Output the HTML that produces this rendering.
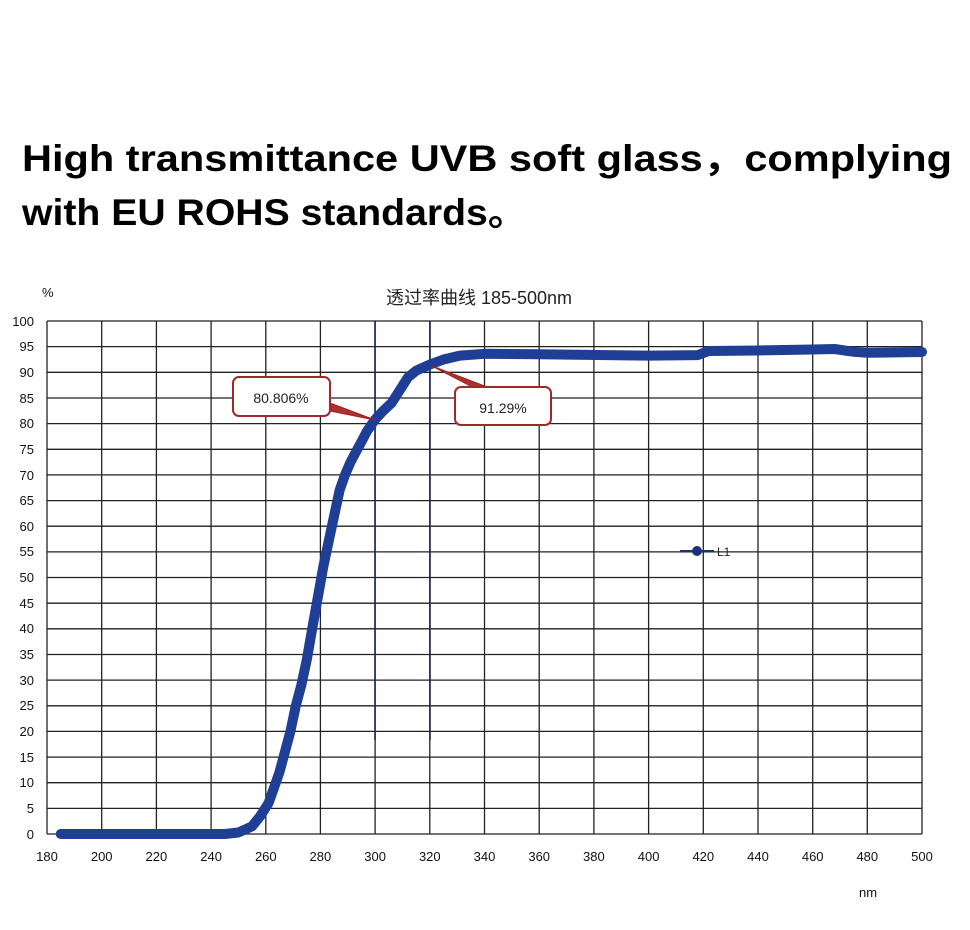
<!DOCTYPE html>
<html><head><meta charset="utf-8"><style>
html,body{margin:0;padding:0;background:#fff;}
svg{display:block;}
</style></head><body>
<svg width="970" height="930" xmlns="http://www.w3.org/2000/svg" font-family="Liberation Sans, Noto Sans CJK SC, sans-serif">
<rect width="970" height="930" fill="#fff"/>
<text x="22" y="171" font-size="37" font-weight="bold" fill="#000" textLength="930" lengthAdjust="spacingAndGlyphs">High transmittance UVB soft glass，complying</text>
<text x="22" y="225" font-size="37" font-weight="bold" fill="#000" textLength="505" lengthAdjust="spacingAndGlyphs">with EU ROHS standards。</text>
<g stroke="#222" stroke-width="1.3" fill="none">
<path d="M47 321V834M101.7 321V834M156.4 321V834M211.1 321V834M265.8 321V834M320.4 321V834M375.1 321V834M429.8 321V834M484.5 321V834M539.2 321V834M593.9 321V834M648.6 321V834M703.3 321V834M758 321V834M812.7 321V834M867.3 321V834M922 321V834"/>
<path d="M47 321H922M47 346.6H922M47 372.3H922M47 398H922M47 423.6H922M47 449.3H922M47 474.9H922M47 500.6H922M47 526.2H922M47 551.9H922M47 577.5H922M47 603.2H922M47 628.8H922M47 654.5H922M47 680.1H922M47 705.8H922M47 731.4H922M47 757.1H922M47 782.7H922M47 808.4H922M47 834H922"/>
</g>
<g font-size="13" fill="#111" text-anchor="end">
<text x="34" y="326">100</text><text x="34" y="351">95</text><text x="34" y="377">90</text><text x="34" y="403">85</text><text x="34" y="428">80</text><text x="34" y="454">75</text><text x="34" y="480">70</text><text x="34" y="505">65</text><text x="34" y="531">60</text><text x="34" y="556">55</text><text x="34" y="582">50</text><text x="34" y="608">45</text><text x="34" y="633">40</text><text x="34" y="659">35</text><text x="34" y="685">30</text><text x="34" y="710">25</text><text x="34" y="736">20</text><text x="34" y="762">15</text><text x="34" y="787">10</text><text x="34" y="813">5</text><text x="34" y="839">0</text>
</g>
<g font-size="13" fill="#111" text-anchor="middle">
<text x="47" y="861">180</text><text x="101.7" y="861">200</text><text x="156.4" y="861">220</text><text x="211.1" y="861">240</text><text x="265.8" y="861">260</text><text x="320.4" y="861">280</text><text x="375.1" y="861">300</text><text x="429.8" y="861">320</text><text x="484.5" y="861">340</text><text x="539.2" y="861">360</text><text x="593.9" y="861">380</text><text x="648.6" y="861">400</text><text x="703.3" y="861">420</text><text x="758" y="861">440</text><text x="812.7" y="861">460</text><text x="867.3" y="861">480</text><text x="922" y="861">500</text>
</g>
<text x="42" y="297" font-size="13" fill="#111">%</text>
<text x="859" y="897" font-size="13" fill="#111">nm</text>
<text x="479" y="304" font-size="18" fill="#222" text-anchor="middle">透过率曲线 185-500nm</text>
<path d="M375 321V740M430 321V740" stroke="#1a2a5a" stroke-width="1.6"/>
<path d="M60.7 834L224.7 834L238.4 832.5L252.1 826.3L260.3 816L268.5 803.2L274 787.8L279.4 772.4L284.9 751.9L290.4 731.4L295.8 705.8L301.3 685.2L306.8 659.6L312.2 628.8L317.7 598L323.2 567.2L328.6 541.6L334.1 515.9L339.6 490.3L345 474.9L350.5 462.1L356 451.8L361.5 441.6L366.9 431.3L375.1 419.5L383.3 410.7L391.5 403.1L399.7 390.3L407.9 377.4L416.1 370.7L429.8 364.6L443.5 359.5L459.9 355.6L484.5 353.8L539.2 354.3L648.6 355.6L697.8 355.1L708.7 351L758 350.5L812.7 349.5L834.5 349L853.7 351.8L867.3 352.8L922 352" fill="none" stroke="#1f3f96" stroke-width="10" stroke-linecap="round" stroke-linejoin="round"/>
<path d="M375 420L330 403L325 410Z" fill="#b03030" stroke="#a02020" stroke-width="1"/>
<path d="M432 366L478 390L490 388Z" fill="#b03030" stroke="#a02020" stroke-width="1"/>
<rect x="233" y="377" width="97" height="39" rx="6" fill="#fff" stroke="#a02828" stroke-width="2"/>
<text x="281" y="403" font-size="14" fill="#222" text-anchor="middle">80.806%</text>
<rect x="455" y="387" width="96" height="38" rx="6" fill="#fff" stroke="#a02828" stroke-width="2"/>
<text x="503" y="413" font-size="14" fill="#222" text-anchor="middle">91.29%</text>
<path d="M680 551H714" stroke="#1a2f80" stroke-width="2"/>
<circle cx="697" cy="551" r="5" fill="#1a2f80"/>
<text x="717" y="556" font-size="12" fill="#222">L1</text>
</svg>
</body></html>
